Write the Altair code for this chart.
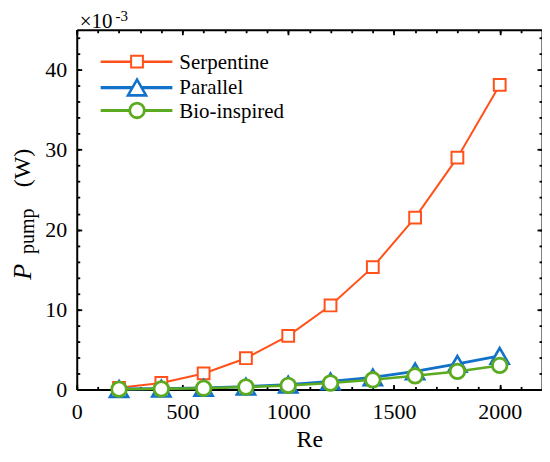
import altair as alt
import pandas as pd

# ---- data ----
re_vals = [200, 400, 600, 800, 1000, 1200, 1400, 1600, 1800, 2000]
serpentine = [0.2, 0.8, 2.0, 3.9, 6.7, 10.5, 15.3, 21.5, 29.0, 38.1]
parallel = [0.05, 0.1, 0.2, 0.35, 0.6, 1.0, 1.5, 2.25, 3.2, 4.2]
bio = [0.03, 0.07, 0.15, 0.3, 0.5, 0.8, 1.2, 1.7, 2.25, 3.0]
series_names = ["Serpentine", "Parallel", "Bio-inspired"]
colors = ["#FF5119", "#1271C8", "#5BAA1F"]
shapes = ["square", "triangle-up", "circle"]

x_major = [0, 500, 1000, 1500, 2000]
x_minor = [0, 100, 200, 300, 400, 500, 600, 700, 800, 900, 1000, 1100,
           1200, 1300, 1400, 1500, 1600, 1700, 1800, 1900, 2000, 2100]
y_major = [0, 10, 20, 30, 40]
y_minor = [0, 2, 4, 6, 8, 10, 12, 14, 16, 18, 20, 22, 24, 26, 28, 30,
           32, 34, 36, 38, 40, 42, 44]

W, H = 467, 361
FONT = "Times New Roman"

xs = alt.Scale(domain=[0, 2200], nice=False, zero=False)
ys = alt.Scale(domain=[0, 45], nice=False, zero=False)

common = dict(grid=False, domainColor="black", domainWidth=2, tickColor="black",
              tickWidth=1.8, labelFont=FONT, labelFontSize=22, labelColor="black",
              labelOverlap=False)

def frame_axis(orient, values, size, offset, domain):
    return alt.Axis(orient=orient, values=values, tickSize=size, offset=offset,
                    labels=False, domain=domain, title=None, **common)

all_series = [serpentine, parallel, bio]
base_df = pd.DataFrame({"Re": re_vals, "P": serpentine})

layers = []

# axis layers (invisible marks that only carry the axes)
axis_specs = [
    (alt.Axis(orient="bottom", values=x_major, ticks=False, labelPadding=12,
              labelFlush=False, format="d", title="Re", titleFont=FONT,
              titleFontSize=24, titleFontWeight="normal", titleColor="black",
              titlePadding=5, **common),
     alt.Axis(orient="left", values=y_major, ticks=False, labelPadding=10,
              title=None, **common)),
    (frame_axis("top", x_major, 5, -H, False), frame_axis("right", y_major, 5, -W, False)),
    (frame_axis("top", x_minor, 3, -H, False), frame_axis("right", y_minor, 3, -W, False)),
    (frame_axis("bottom", x_major, 5, -H, True), frame_axis("left", y_major, 5, -W, True)),
    (frame_axis("bottom", x_minor, 3, -H, False), frame_axis("left", y_minor, 3, -W, False)),
]
for xa, ya in axis_specs:
    layers.append(
        alt.Chart(base_df).mark_point(opacity=0).encode(
            x=alt.X("Re:Q", scale=xs, axis=xa),
            y=alt.Y("P:Q", scale=ys, axis=ya),
        )
    )

line_widths = [2, 2.8, 2.5]
marker_sizes = [140, 330, 215]
marker_strokes = [2, 2.6, 2.8]

for name, vals, col, shp, lw, ms, mw in zip(series_names, all_series, colors, shapes,
                                             line_widths, marker_sizes, marker_strokes):
    df = pd.DataFrame({"Re": re_vals, "P": vals})
    layers.append(
        alt.Chart(df).mark_line(color=col, strokeWidth=lw).encode(
            x=alt.X("Re:Q", scale=xs, axis=None),
            y=alt.Y("P:Q", scale=ys, axis=None),
        )
    )
    layers.append(
        alt.Chart(df).mark_point(shape=shp, size=ms, filled=True, fill="white",
                                 stroke=col, strokeWidth=mw, opacity=1).encode(
            x=alt.X("Re:Q", scale=xs, axis=None),
            y=alt.Y("P:Q", scale=ys, axis=None),
        )
    )

# legend (manual, line through symbol)
one = pd.DataFrame({"a": [0]})
leg_line_y = [32, 58, 81]
leg_text_y = [39, 64, 89]
for name, col, shp, ms, mw, lw, ly, ty in zip(series_names, colors, shapes, marker_sizes,
                                              marker_strokes, line_widths, leg_line_y, leg_text_y):
    layers.append(alt.Chart(one).mark_rule(color=col, strokeWidth=lw + 0.5).encode(
        x=alt.value(24), x2=alt.value(96), y=alt.value(ly)))
    layers.append(alt.Chart(one).mark_point(shape=shp, size=ms, filled=True, fill="white",
                                            stroke=col, strokeWidth=mw, opacity=1).encode(
        x=alt.value(60.5), y=alt.value(ly)))
    layers.append(alt.Chart(one).mark_text(text=name, font=FONT, fontSize=21, color="black",
                                           align="left", baseline="alphabetic").encode(
        x=alt.value(103), y=alt.value(ty)))

# y-axis title: P_pump (W)
layers.append(alt.Chart(one).mark_text(text="P", font=FONT, fontSize=26, fontStyle="italic",
                                       angle=270, align="left", baseline="alphabetic",
                                       color="black").encode(x=alt.value(-46), y=alt.value(251)))
layers.append(alt.Chart(one).mark_text(text="pump", font=FONT, fontSize=20, angle=270,
                                       align="left", baseline="alphabetic",
                                       color="black").encode(x=alt.value(-43), y=alt.value(225)))
layers.append(alt.Chart(one).mark_text(text="(W)", font=FONT, fontSize=24, angle=270,
                                       align="left", baseline="alphabetic",
                                       color="black").encode(x=alt.value(-47), y=alt.value(158)))

# exponent label ×10^-3
layers.append(alt.Chart(one).mark_text(text="×10", font=FONT, fontSize=21, align="left",
                                       baseline="alphabetic", color="black").encode(
    x=alt.value(3), y=alt.value(-2)))
layers.append(alt.Chart(one).mark_text(text="-3", font=FONT, fontSize=15, align="left",
                                       baseline="alphabetic", color="black").encode(
    x=alt.value(39), y=alt.value(-9)))

chart = alt.layer(*layers).resolve_axis(x="independent", y="independent").properties(
    width=W, height=H,
    padding={"left": 69, "top": 21, "right": 0, "bottom": 62},
    autosize=alt.AutoSizeParams(type="none"),
    background="white",
).configure(font=FONT).configure_view(stroke=None)

chart.save("out.html", embed_options={"renderer": "svg", "actions": False})
